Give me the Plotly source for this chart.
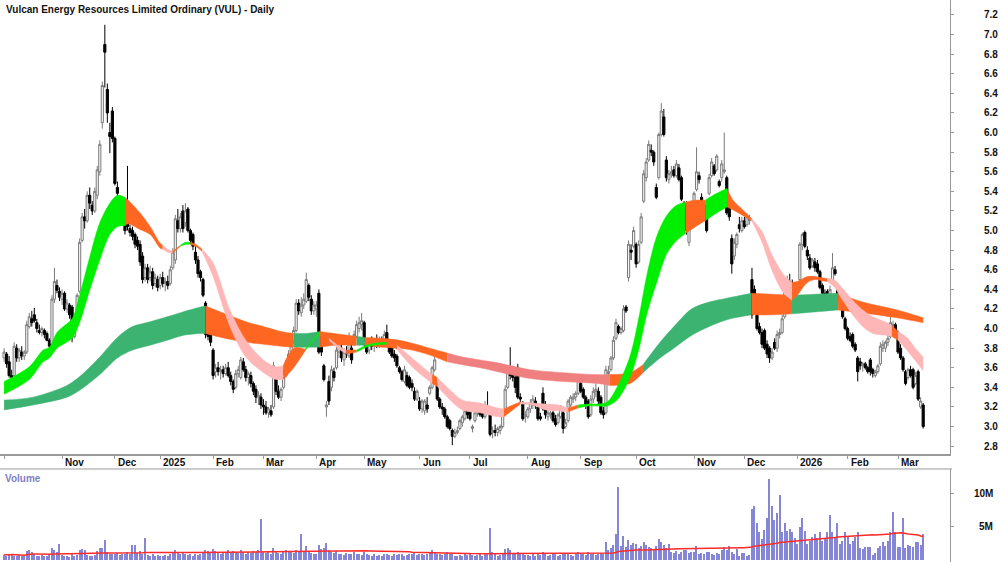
import pandas as pd
import plotly.graph_objects as go

TITLE = "Vulcan Energy Resources Limited Ordinary (VUL) - Daily"
START, END = "2024-10-01", "2026-03-16"
HOLIDAYS = ["2024-12-24", "2024-12-25", "2024-12-26", "2024-12-31", "2025-01-01",
            "2025-01-27", "2025-04-18", "2025-04-21", "2025-04-25", "2025-06-09",
            "2025-12-25", "2025-12-26", "2026-01-01", "2026-01-26"]

OPEN = [
    3.70,3.74,3.66,3.52,3.52,3.80,3.70,3.76,3.72,3.76,4.02,4.10,4.14,4.06,3.98,3.96,3.98,3.95,3.88,3.84,4.30,4.44,4.38,
    4.30,4.36,4.20,4.24,4.22,3.92,4.12,4.38,4.90,5.14,5.10,5.36,5.26,5.20,5.36,5.60,6.10,6.90,6.44,6.00,6.22,
    5.94,5.44,5.30,5.22,5.08,5.24,5.02,5.00,4.96,4.90,4.86,4.74,4.52,4.62,4.52,4.58,4.46,4.50,
    4.44,4.52,4.46,4.48,4.46,4.62,4.70,5.10,5.02,5.20,5.08,5.22,5.00,4.96,4.78,4.70,4.58,4.50,4.26,4.02,3.94,
    3.78,3.56,3.60,3.56,3.58,3.54,3.60,3.52,3.46,3.40,3.54,3.50,3.66,3.58,3.50,3.52,3.44,3.38,3.30,3.30,
    3.22,3.20,3.14,3.16,3.20,3.50,3.36,3.30,3.40,3.52,3.64,3.76,3.88,3.98,4.26,4.16,4.24,4.28,4.44,4.30,4.18,
    4.20,4.36,3.92,3.62,3.20,3.46,3.40,3.56,3.60,3.76,3.80,3.68,3.76,3.72,3.80,3.84,3.92,4.00,4.04,
    4.06,3.86,3.78,3.86,3.82,3.88,3.84,3.88,3.86,3.96,3.84,3.80,3.74,3.72,3.60,3.56,3.46,3.52,3.50,3.44,3.36,3.28,
    3.26,3.18,3.16,3.22,3.34,3.40,3.58,3.44,3.28,3.20,3.18,3.10,3.06,2.96,2.90,2.94,2.98,3.04,3.08,3.16,
    3.18,2.98,3.06,3.14,3.20,3.14,3.10,3.20,3.14,2.94,2.96,2.94,2.96,3.00,3.14,3.40,3.60,3.58,3.50,3.60,3.30,3.24,3.10,
    3.10,3.18,3.22,3.26,3.20,3.10,3.34,3.22,3.10,3.12,3.14,3.08,3.04,3.10,3.14,3.00,3.06,3.22,3.28,3.30,3.34,
    3.44,3.38,3.30,3.26,3.12,3.28,3.36,3.36,3.30,3.16,3.14,3.54,3.58,3.70,3.90,4.02,3.96,3.98,4.22,4.52,4.80,4.84,
    4.86,4.68,4.88,5.30,5.54,5.72,5.82,5.80,5.44,5.54,5.98,6.16,5.72,5.52,5.58,5.62,5.56,5.64,5.54,5.28,5.26,4.88,5.06,
    5.16,5.42,5.56,5.34,5.24,5.26,5.38,5.56,5.66,5.62,5.50,5.54,5.60,5.54,5.30,4.92,4.74,4.86,5.06,5.00,
    5.10,5.06,5.10,4.50,4.40,4.18,4.02,3.96,3.98,3.84,3.80,3.70,3.86,3.80,3.94,3.96,4.12,4.36,4.48,4.44,4.40,
    4.42,4.50,4.86,4.98,4.80,4.72,4.64,4.68,4.66,4.58,4.44,4.36,4.38,4.30,4.50,4.60,4.44,4.34,4.22,4.10,
    4.00,3.92,3.94,3.84,3.70,3.66,3.62,3.64,3.60,3.68,3.58,3.52,3.56,3.64,3.80,3.80,3.86,3.92,4.00,4.04,
    3.96,3.80,3.70,3.56,3.50,3.58,3.58,3.44,3.56,3.20,3.22,
]
HIGH = [
    3.80,3.76,3.72,3.58,3.86,3.84,3.80,3.82,3.78,4.08,4.16,4.18,4.21,4.10,4.04,4.02,4.00,3.97,3.90,4.34,4.62,4.50,4.42,
    4.40,4.38,4.30,4.26,4.24,4.14,4.36,4.92,5.18,5.22,5.40,5.44,5.30,5.44,5.66,5.92,6.52,7.10,6.50,6.10,6.26,
    5.96,5.50,5.36,5.34,5.12,5.66,5.06,5.04,4.98,4.94,4.90,4.78,4.66,4.66,4.64,4.62,4.56,4.54,
    4.56,4.58,4.52,4.54,4.64,4.82,5.16,5.22,5.18,5.26,5.28,5.24,5.02,4.98,4.84,4.74,4.60,4.52,4.28,4.06,3.98,
    3.80,3.64,3.66,3.62,3.62,3.64,3.66,3.56,3.48,3.58,3.62,3.71,3.70,3.62,3.56,3.56,3.46,3.42,3.36,3.34,
    3.28,3.26,3.20,3.22,3.66,3.52,3.42,3.40,3.58,3.68,3.78,3.92,4.02,4.30,4.30,4.32,4.36,4.57,4.46,4.34,4.28,
    4.28,4.40,3.96,3.64,3.26,3.52,3.62,3.60,3.82,3.90,3.84,3.80,3.82,3.96,3.84,3.98,4.08,4.12,4.16,
    4.08,3.88,3.90,3.92,3.90,3.94,3.92,3.92,3.98,4.04,3.86,3.82,3.78,3.74,3.62,3.58,3.62,3.56,3.52,3.48,3.40,3.38,
    3.30,3.28,3.28,3.30,3.42,3.62,3.72,3.46,3.30,3.24,3.20,3.12,3.08,2.98,2.98,3.00,3.08,3.12,3.20,3.20,
    3.22,3.02,3.16,3.22,3.24,3.16,3.26,3.36,3.16,3.00,3.02,3.00,3.02,3.16,3.42,3.60,3.81,3.62,3.60,3.64,3.34,3.26,3.16,
    3.20,3.28,3.32,3.30,3.22,3.14,3.40,3.26,3.18,3.16,3.16,3.12,3.14,3.22,3.16,3.08,3.28,3.32,3.34,3.36,3.53,
    3.46,3.40,3.32,3.28,3.32,3.40,3.44,3.40,3.32,3.20,3.62,3.62,3.72,3.92,4.10,4.04,4.02,4.24,4.24,4.90,4.86,5.04,
    4.88,4.90,5.18,5.62,5.74,5.92,5.88,5.82,5.48,6.00,6.30,6.24,5.76,5.62,5.66,5.66,5.72,5.68,5.56,5.30,5.30,5.12,5.18,
    5.40,5.85,5.60,5.38,5.30,5.28,5.58,5.74,5.68,5.78,5.52,5.72,6.00,5.56,5.32,4.96,4.92,4.98,5.14,5.14,
    5.14,5.18,5.16,4.62,4.44,4.20,4.06,4.00,4.00,3.88,3.82,3.80,3.90,3.98,4.00,4.14,4.48,4.54,4.56,4.50,4.48,
    4.46,4.88,4.98,5.00,4.84,4.76,4.72,4.72,4.70,4.60,4.46,4.40,4.40,4.44,4.77,4.64,4.46,4.36,4.24,4.12,
    4.02,3.96,3.96,3.86,3.72,3.70,3.66,3.66,3.62,3.70,3.60,3.58,3.64,3.86,3.88,3.88,3.94,4.19,4.08,4.06,
    3.98,3.84,3.72,3.58,3.60,3.62,3.60,3.56,3.58,3.30,3.24,
]
LOW = [
    3.66,3.60,3.50,3.45,3.50,3.66,3.66,3.68,3.68,3.74,4.00,4.02,4.06,3.96,3.94,3.92,3.90,3.87,3.80,3.82,4.26,4.36,4.28,
    4.24,4.18,4.16,4.10,3.86,3.90,4.10,4.36,4.88,5.02,5.08,5.22,5.16,5.18,5.32,5.56,6.04,6.46,6.10,5.79,5.90,
    5.46,5.34,5.16,5.16,4.96,5.00,4.94,4.90,4.82,4.80,4.64,4.46,4.48,4.46,4.48,4.40,4.42,4.38,
    4.40,4.42,4.38,4.40,4.44,4.60,4.66,4.98,4.98,4.98,5.04,4.98,4.86,4.80,4.66,4.52,4.48,4.32,3.90,3.88,3.82,
    3.48,3.50,3.52,3.48,3.50,3.52,3.50,3.42,3.34,3.38,3.50,3.48,3.56,3.46,3.42,3.40,3.32,3.24,3.22,3.18,
    3.12,3.12,3.09,3.10,3.18,3.32,3.28,3.26,3.38,3.50,3.60,3.72,3.84,3.96,4.14,4.12,4.20,4.26,4.28,4.14,4.14,
    4.12,3.74,3.72,3.46,3.10,3.22,3.36,3.46,3.58,3.70,3.66,3.62,3.70,3.70,3.64,3.82,3.90,3.96,3.98,
    3.82,3.74,3.74,3.78,3.76,3.80,3.80,3.82,3.84,3.84,3.74,3.70,3.66,3.60,3.54,3.46,3.44,3.40,3.38,3.36,3.26,3.26,
    3.16,3.14,3.12,3.14,3.32,3.38,3.56,3.26,3.18,3.12,3.08,2.98,2.96,2.81,2.88,2.92,2.96,3.00,3.06,3.08,
    3.06,2.94,3.04,3.10,3.10,3.08,3.08,3.14,2.90,2.88,2.90,2.90,2.92,2.98,3.12,3.38,3.48,3.46,3.34,3.28,3.24,3.06,3.04,
    3.08,3.14,3.18,3.18,3.06,3.06,3.16,3.08,3.06,3.08,3.04,3.00,3.02,3.08,2.93,2.98,3.04,3.20,3.24,3.26,3.32,
    3.34,3.28,3.18,3.08,3.10,3.24,3.30,3.22,3.12,3.08,3.12,3.50,3.56,3.68,3.88,3.94,3.94,3.96,4.16,4.48,4.70,4.82,
    4.62,4.66,4.86,5.28,5.50,5.70,5.76,5.66,5.32,5.52,5.96,5.96,5.50,5.48,5.54,5.54,5.54,5.50,5.30,4.98,4.96,4.84,5.02,
    5.14,5.40,5.48,5.18,5.20,4.98,5.36,5.54,5.56,5.60,5.44,5.50,5.58,5.16,5.10,4.56,4.70,4.82,4.98,4.98,
    5.02,5.04,5.06,4.10,4.30,3.98,3.94,3.80,3.78,3.70,3.65,3.68,3.78,3.76,3.90,3.94,4.10,4.32,4.40,4.36,4.38,
    4.36,4.48,4.80,4.82,4.70,4.60,4.62,4.58,4.56,4.40,4.32,4.28,4.22,4.28,4.48,4.54,4.28,4.22,4.10,3.98,
    3.88,3.86,3.80,3.76,3.46,3.58,3.56,3.58,3.54,3.52,3.50,3.50,3.54,3.62,3.76,3.76,3.82,3.90,3.96,3.94,
    3.74,3.68,3.56,3.42,3.48,3.50,3.38,3.42,3.26,3.18,2.98,
]
CLOSE = [
    3.76,3.64,3.52,3.50,3.82,3.70,3.78,3.72,3.76,4.04,4.12,4.06,4.08,4.00,3.96,4.00,3.94,3.88,3.82,4.30,4.48,4.39,4.32,
    4.36,4.20,4.26,4.14,3.92,4.12,4.34,4.88,5.14,5.10,5.36,5.28,5.20,5.40,5.62,5.88,6.48,6.82,6.20,5.96,5.94,
    5.48,5.38,5.20,5.30,5.00,5.04,4.98,4.94,4.86,4.84,4.68,4.50,4.62,4.50,4.58,4.44,4.52,4.42,
    4.52,4.46,4.48,4.44,4.60,4.78,5.12,5.02,5.14,5.02,5.20,5.00,4.90,4.84,4.70,4.56,4.52,4.34,3.94,3.92,3.86,
    3.52,3.60,3.56,3.58,3.54,3.60,3.52,3.46,3.38,3.54,3.58,3.68,3.58,3.50,3.54,3.44,3.36,3.30,3.32,3.22,
    3.20,3.14,3.18,3.12,3.62,3.36,3.30,3.38,3.54,3.64,3.74,3.88,3.98,4.26,4.18,4.24,4.30,4.50,4.32,4.18,4.24,
    4.24,3.76,3.76,3.48,3.22,3.26,3.58,3.50,3.78,3.86,3.70,3.76,3.74,3.92,3.68,3.94,4.04,4.06,4.08,
    3.84,3.76,3.86,3.82,3.88,3.84,3.88,3.86,3.94,3.86,3.76,3.72,3.70,3.62,3.56,3.48,3.58,3.42,3.40,3.40,3.28,3.36,
    3.18,3.26,3.26,3.18,3.40,3.60,3.68,3.28,3.20,3.18,3.10,3.00,2.98,2.90,2.94,2.96,3.06,3.10,3.16,3.12,
    3.08,3.00,3.14,3.18,3.12,3.10,3.22,3.16,2.92,2.96,2.94,2.98,3.00,3.14,3.38,3.56,3.52,3.50,3.40,3.30,3.28,3.08,3.12,
    3.18,3.24,3.28,3.22,3.08,3.08,3.18,3.12,3.14,3.14,3.06,3.02,3.12,3.20,2.98,3.04,3.26,3.30,3.30,3.34,3.50,
    3.36,3.30,3.22,3.10,3.28,3.36,3.38,3.26,3.14,3.12,3.58,3.56,3.70,3.88,4.06,3.96,4.00,4.20,4.18,4.86,4.78,5.00,
    4.66,4.86,5.14,5.58,5.70,5.88,5.80,5.70,5.34,5.98,6.22,5.98,5.54,5.58,5.60,5.56,5.68,5.52,5.32,5.00,5.00,5.10,5.14,
    5.38,5.60,5.52,5.20,5.26,5.00,5.54,5.70,5.58,5.76,5.46,5.68,5.62,5.18,5.14,4.66,4.88,4.96,5.02,5.10,
    5.04,5.14,5.12,4.14,4.32,4.00,3.96,3.84,3.80,3.74,3.70,3.76,3.80,3.94,3.96,4.10,4.44,4.50,4.46,4.42,4.44,
    4.44,4.86,4.96,4.84,4.74,4.62,4.70,4.62,4.58,4.42,4.36,4.30,4.24,4.40,4.62,4.56,4.30,4.24,4.12,4.00,
    3.90,3.88,3.82,3.78,3.56,3.62,3.64,3.60,3.56,3.56,3.54,3.56,3.62,3.82,3.84,3.86,3.90,4.06,4.04,3.96,
    3.76,3.70,3.58,3.44,3.58,3.52,3.40,3.52,3.28,3.26,3.00,
]
VOLUME_M = [
    0.7,0.6,0.8,0.9,0.6,0.5,0.7,0.6,0.5,1.3,1.5,1.1,0.8,0.6,0.5,0.7,0.6,0.5,0.8,1.7,1.4,1.2,2.3,
    0.7,0.5,0.6,0.4,0.9,0.6,0.7,1.4,1.6,1.4,0.7,0.6,0.5,0.7,1.3,1.7,1.7,2.9,1.2,0.8,0.9,
    0.8,1.0,0.7,0.9,0.8,1.1,0.9,2.2,2.2,1.0,1.3,0.9,3.3,0.7,0.6,0.8,0.5,0.7,
    0.6,0.5,0.7,0.6,0.9,1.2,1.4,1.1,0.8,1.0,0.9,0.7,0.8,0.6,0.9,0.7,0.8,1.1,1.5,1.3,1.2,
    1.6,1.3,1.1,0.9,1.2,1.0,1.4,1.1,1.3,1.2,1.0,1.5,1.1,0.9,1.2,1.0,1.3,1.1,1.4,6.1,
    1.2,1.0,1.3,0.9,1.8,1.2,1.0,0.9,1.3,1.4,1.2,1.1,1.0,1.5,1.2,3.9,1.1,2.1,1.2,1.0,0.9,
    0.9,2.2,1.6,1.8,2.5,1.4,1.2,1.0,1.3,0.9,0.8,0.7,1.0,0.9,0.8,1.1,0.9,0.8,0.7,
    1.2,0.9,0.7,0.6,0.8,0.6,0.7,0.5,0.8,0.9,0.7,0.6,0.8,0.7,0.9,0.8,0.6,0.7,0.9,0.8,1.0,0.7,
    0.9,0.8,0.7,0.8,1.1,1.4,1.0,0.9,0.8,0.7,0.9,1.1,0.8,1.0,0.6,0.5,0.7,0.6,0.8,0.7,
    0.8,0.7,0.6,0.7,0.9,0.6,0.8,1.0,4.8,1.2,0.8,0.6,0.7,0.9,1.6,1.8,1.4,1.0,0.9,1.2,0.8,1.0,0.7,
    0.7,0.6,0.8,0.5,0.9,0.7,1.1,0.8,0.6,0.7,0.8,0.9,0.6,0.7,1.0,0.8,0.9,0.7,0.6,0.8,1.2,
    0.9,0.8,0.7,1.1,0.9,0.8,0.7,0.9,1.0,0.8,2.6,1.5,1.8,2.2,3.8,11.0,2.1,3.5,1.9,3.0,2.2,2.5,
    2.4,1.8,2.0,2.6,2.2,1.9,1.7,1.5,2.0,3.1,2.6,2.2,1.8,2.3,1.2,1.0,1.3,0.9,1.1,1.4,1.5,1.0,1.2,
    1.1,2.0,0.9,1.0,0.8,1.2,1.1,0.9,0.7,1.0,0.8,1.4,1.9,1.5,2.0,1.1,0.9,1.6,0.6,1.0,
    1.0,0.6,0.7,7.6,8.1,5.6,4.2,3.1,4.4,6.3,12.2,8.1,6.0,7.1,9.8,4.1,5.6,4.3,4.6,4.1,3.3,
    2.3,4.9,6.3,4.3,2.3,2.8,3.4,3.9,3.3,4.2,2.8,3.3,4.2,6.7,4.1,3.3,5.6,2.4,2.8,4.2,
    3.4,2.3,2.8,3.4,4.2,1.7,1.6,1.9,1.9,1.9,0.75,0.95,1.7,2.1,2.6,2.1,2.8,4.1,7.2,4.1,
    1.9,1.9,6.3,1.7,2.2,2.1,1.9,2.7,2.6,2.2,3.8,
]
VOL_MA_DAYS = 60

# Short-term ribbon (day index -> upper / lower edge)
S_IDX = [0, 10, 15.5, 18, 21, 23.5, 27, 30, 34, 38, 42, 45, 48, 49.3, 54, 58, 62, 63, 65, 67, 70, 72, 74, 76,
         78.6, 83, 89.7, 96, 103, 108, 110.8, 115, 119.5, 122, 125.5, 129, 133, 136, 140, 145, 152, 156, 162,
         169, 170, 172, 176, 182, 189, 196, 198.5, 202, 205, 210, 215, 220, 224, 228, 232, 236, 239.5, 243.4,
         248.6, 252, 255.3, 259.3, 263.3, 267.2, 270.6, 274, 278.4, 283, 287.1, 289.5, 293, 296.9, 301, 305,
         309.6, 312.9, 315, 319, 322, 324.4, 326.8, 329.5, 333, 337, 341, 345, 350.6, 352.6, 355, 358.5, 362.5, 365]
S_TOP = [3.46, 3.61, 3.78, 3.81, 3.96, 4.02, 4.10, 4.34, 4.73, 5.08, 5.28, 5.36, 5.34, 5.31, 5.18, 5.04, 4.87, 4.85,
         4.81, 4.79, 4.85, 4.88, 4.88, 4.86, 4.81, 4.67, 4.19, 3.88, 3.68, 3.61, 3.62, 3.80, 3.79, 3.87, 3.97, 3.90,
         3.82, 3.78, 3.78, 3.84, 3.86, 3.83, 3.70, 3.55, 3.53, 3.50, 3.40, 3.27, 3.24, 3.19, 3.18, 3.22, 3.25, 3.24,
         3.23, 3.22, 3.19, 3.22, 3.23, 3.23, 3.25, 3.40, 3.72, 4.10, 4.55, 4.95, 5.16, 5.26, 5.29, 5.31, 5.31, 5.38,
         5.43, 5.31, 5.22, 5.12, 4.99, 4.75, 4.55, 4.47, 4.48, 4.53, 4.53, 4.52, 4.51, 4.50, 4.41, 4.29, 4.19, 4.12,
         4.06, 4.03, 3.97, 3.91, 3.78, 3.71]
S_BOT = [3.33, 3.48, 3.66, 3.70, 3.80, 3.84, 3.90, 4.06, 4.39, 4.70, 4.96, 5.04, 5.05, 5.07, 5.01, 4.96, 4.82, 4.81,
         4.78, 4.77, 4.84, 4.86, 4.86, 4.84, 4.79, 4.53, 4.02, 3.71, 3.55, 3.48, 3.48, 3.60, 3.77, 3.86, 3.95, 3.88,
         3.79, 3.74, 3.76, 3.82, 3.84, 3.79, 3.61, 3.46, 3.44, 3.41, 3.30, 3.17, 3.14, 3.10, 3.10, 3.17, 3.23, 3.22,
         3.17, 3.16, 3.15, 3.19, 3.21, 3.21, 3.21, 3.27, 3.50, 3.78, 4.15, 4.48, 4.77, 4.90, 4.97, 5.03, 5.10, 5.18,
         5.24, 5.21, 5.16, 5.10, 4.88, 4.59, 4.36, 4.29, 4.34, 4.47, 4.50, 4.49, 4.48, 4.43, 4.29, 4.14, 4.02, 3.95,
         3.93, 3.92, 3.88, 3.78, 3.65, 3.57]
S_SEGMENTS = [(0, 48, "green"), (48, 63, "orange"), (63, 67, "pink"), (67, 70, "orange"), (70, 74, "green"),
              (74, 78.6, "orange"), (78.6, 110.8, "pink"), (110.8, 119.5, "orange"), (119.5, 125.5, "green"),
              (125.5, 129, "orange"), (129, 136, "pink"), (136, 140, "orange"), (140, 152, "green"),
              (152, 156, "orange"), (156, 170, "pink"), (170, 172, "orange"), (172, 198.5, "pink"),
              (198.5, 205, "orange"), (205, 224, "pink"), (224, 228, "orange"), (228, 270.6, "green"),
              (270.6, 278.4, "orange"), (278.4, 287.1, "green"), (287.1, 296.9, "orange"), (296.9, 312.9, "pink"),
              (312.9, 326.8, "orange"), (326.8, 352.6, "pink"), (352.6, 355, "orange"), (355, 365, "pink")]

# Long-term ribbon
L_IDX = [0, 11.5, 25, 30, 38, 45, 51, 58, 64.7, 71, 78, 80, 83, 89.7, 96, 103, 110, 115, 120, 125.5, 131, 137, 140,
         143.3, 150, 157, 162, 169, 176, 182, 189, 196, 209, 222, 235.5, 240.6, 248.6, 253.7, 260.5, 266, 273, 280,
         287, 296.9, 305, 312.9, 322, 331.2, 341, 354.6, 365]
L_TOP = [3.27, 3.30, 3.42, 3.51, 3.71, 3.91, 4.02, 4.07, 4.12, 4.17, 4.22, 4.23, 4.20, 4.13, 4.07, 4.02, 3.97, 3.95,
         3.95, 3.97, 3.95, 3.93, 3.92, 3.91, 3.90, 3.88, 3.85, 3.80, 3.75, 3.71, 3.68, 3.65, 3.58, 3.55, 3.53, 3.53,
         3.55, 3.63, 3.86, 4.02, 4.20, 4.27, 4.31, 4.36, 4.35, 4.34, 4.35, 4.36, 4.27, 4.19, 4.11]
L_BOT = [3.17, 3.22, 3.30, 3.37, 3.53, 3.70, 3.78, 3.83, 3.88, 3.93, 3.95, 3.95, 3.93, 3.89, 3.86, 3.84, 3.82, 3.81,
         3.81, 3.81, 3.83, 3.83, 3.83, 3.83, 3.81, 3.80, 3.78, 3.73, 3.66, 3.63, 3.60, 3.56, 3.49, 3.46, 3.44, 3.42,
         3.44, 3.55, 3.70, 3.80, 3.93, 4.02, 4.09, 4.14, 4.14, 4.15, 4.17, 4.19, 4.16, 4.11, 4.06]
L_SEGMENTS = [(0, 80, "dkgreen"), (80, 115, "orange"), (115, 125.5, "dkgreen"), (125.5, 140, "orange"),
              (140, 143.3, "dkgreen"), (143.3, 176, "orange"), (176, 240.6, "salmon"), (240.6, 253.7, "orange"),
              (253.7, 296.9, "dkgreen"), (296.9, 312.9, "orange"), (312.9, 331.2, "dkgreen"), (331.2, 365, "orange")]

PRICE_TICKS = [2.8, 3.0, 3.2, 3.4, 3.6, 3.8, 4.0, 4.2, 4.4, 4.6, 4.8, 5.0, 5.2, 5.4, 5.6, 5.8, 6.0, 6.2, 6.4,
               6.6, 6.8, 7.0, 7.2]
VOL_TICKS = [5e6, 10e6]
VOL_TICK_TEXT = ["5M", "10M"]

COLORS = {"green": "#00ee00", "orange": "#ff6622", "pink": "#ffb6b6", "dkgreen": "#3cb371", "salmon": "#f08080"}
FONT = "Liberation Sans, Arial, sans-serif"

# ---------------------------------------------------------------
n = len(CLOSE)
hol = set(HOLIDAYS)
dates = [d for d in pd.bdate_range(START, END) if d.strftime("%Y-%m-%d") not in hol][:n]
x = list(range(n))
volume = [v * 1e6 for v in VOLUME_M]
vol_ma = pd.Series(volume).rolling(VOL_MA_DAYS, min_periods=1).mean().tolist()

month_idx, month_lab = [], []
for i, d in enumerate(dates):
    if i == 0 or d.month != dates[i - 1].month:
        month_idx.append(i)
        month_lab.append("" if i == 0 else (str(d.year) if d.month == 1 else d.strftime("%b")))

XMIN, XMAX = -1.63, 375.65

fig = go.Figure()


def add_ribbon(idx, top, bot, segments):
    for a, b, c in segments:
        pts = [k for k, v in enumerate(idx) if a - 1e-9 <= v <= b + 1e-9]
        xs = [idx[k] for k in pts]
        shape = "spline" if len(pts) > 2 else "linear"
        fig.add_trace(go.Scatter(x=xs, y=[bot[k] for k in pts], mode="lines",
                                 line=dict(color=COLORS[c], width=0.5, shape=shape, smoothing=0.9),
                                 hoverinfo="skip", showlegend=False, xaxis="x", yaxis="y"))
        fig.add_trace(go.Scatter(x=xs, y=[top[k] for k in pts], mode="lines", fill="tonexty",
                                 fillcolor=COLORS[c],
                                 line=dict(color=COLORS[c], width=0.5, shape=shape, smoothing=0.9),
                                 hoverinfo="skip", showlegend=False, xaxis="x", yaxis="y"))


add_ribbon(L_IDX, L_TOP, L_BOT, L_SEGMENTS)
add_ribbon(S_IDX, S_TOP, S_BOT, S_SEGMENTS)

fig.add_trace(go.Candlestick(
    x=x, open=OPEN[:n], high=HIGH[:n], low=LOW[:n], close=CLOSE[:n],
    increasing=dict(line=dict(color="#7a7a7a", width=1), fillcolor="#f4f4f4"),
    decreasing=dict(line=dict(color="#000000", width=1), fillcolor="#000000"),
    whiskerwidth=0, showlegend=False, xaxis="x", yaxis="y"))

fig.add_trace(go.Bar(x=x, y=volume, width=0.5, marker=dict(color="#8686d6", line=dict(width=0)),
                     showlegend=False, xaxis="x2", yaxis="y2"))
fig.add_trace(go.Scatter(x=x, y=vol_ma, mode="lines", line=dict(color="#ff2a2a", width=1.5),
                         showlegend=False, xaxis="x2", yaxis="y2"))

PRICE_TOP = 0.1922
VOL_TOP = 0.1655

annotations = [
    dict(text=TITLE, xref="paper", yref="paper", x=0.004, y=1 - 9 / 562, xanchor="left", yanchor="middle",
         showarrow=False, font=dict(family=FONT, size=10, color="#111111", weight="bold")),
    dict(text="Volume", xref="paper", yref="paper", x=0.003, y=1 - 478.5 / 562, xanchor="left",
         yanchor="middle", showarrow=False, font=dict(family=FONT, size=10, color="#8080c4", weight="bold")),
]
for i, lab in zip(month_idx, month_lab):
    if lab:
        annotations.append(dict(text=lab, xref="x", yref="paper", x=i, y=1 - 462.5 / 562, xanchor="left",
                                yanchor="middle", xshift=1, showarrow=False,
                                font=dict(family=FONT, size=10, color="#111111", weight="bold")))
for v, t in zip(VOL_TICKS, VOL_TICK_TEXT):
    annotations.append(dict(text=t, xref="paper", yref="y2", x=995 / 950, y=v, xanchor="right",
                            yanchor="middle", showarrow=False,
                            font=dict(family=FONT, size=10, color="#111111", weight="bold")))

fig.update_layout(
    width=1000, height=562, margin=dict(l=0, r=50, t=0, b=0),
    paper_bgcolor="white", plot_bgcolor="white", showlegend=False, bargap=0,
    boxgap=0.05, boxgroupgap=0.1,
    xaxis=dict(domain=[0, 1], range=[XMIN, XMAX], anchor="y", tickvals=month_idx, showticklabels=False,
               ticks="outside", ticklen=3, tickcolor="#9a9a9a", showline=True, linecolor="#9a9a9a",
               linewidth=1.5, showgrid=False, zeroline=False, rangeslider=dict(visible=False)),
    xaxis2=dict(domain=[0, 1], range=[XMIN, XMAX], anchor="y2", showticklabels=False, showgrid=False,
                zeroline=False, ticks=""),
    yaxis=dict(domain=[PRICE_TOP, 1], range=[2.72, 7.353], side="right", anchor="x", tickvals=PRICE_TICKS,
               ticktext=[f"{t:.1f}" for t in PRICE_TICKS], ticks="outside", ticklen=3, tickcolor="#9a9a9a",
               showline=True, linecolor="#9a9a9a", linewidth=1, showgrid=False, zeroline=False,
               ticklabelstandoff=28,
               tickfont=dict(family=FONT, size=10, color="#111111", weight="bold")),
    yaxis2=dict(domain=[0, VOL_TOP], range=[-0.38e6, 13.71e6], side="right", anchor="x2", tickvals=VOL_TICKS,
                showticklabels=False, ticks="outside", ticklen=3, tickcolor="#9a9a9a", showline=True,
                linecolor="#9a9a9a", linewidth=1, showgrid=False, zeroline=False),
    annotations=annotations,
    shapes=[dict(type="line", xref="paper", yref="paper", x0=0, x1=952 / 950, y0=VOL_TOP, y1=VOL_TOP,
                 line=dict(color="#9a9a9a", width=1))],
)

fig.write_html("out.html", config={"displayModeBar": False})
